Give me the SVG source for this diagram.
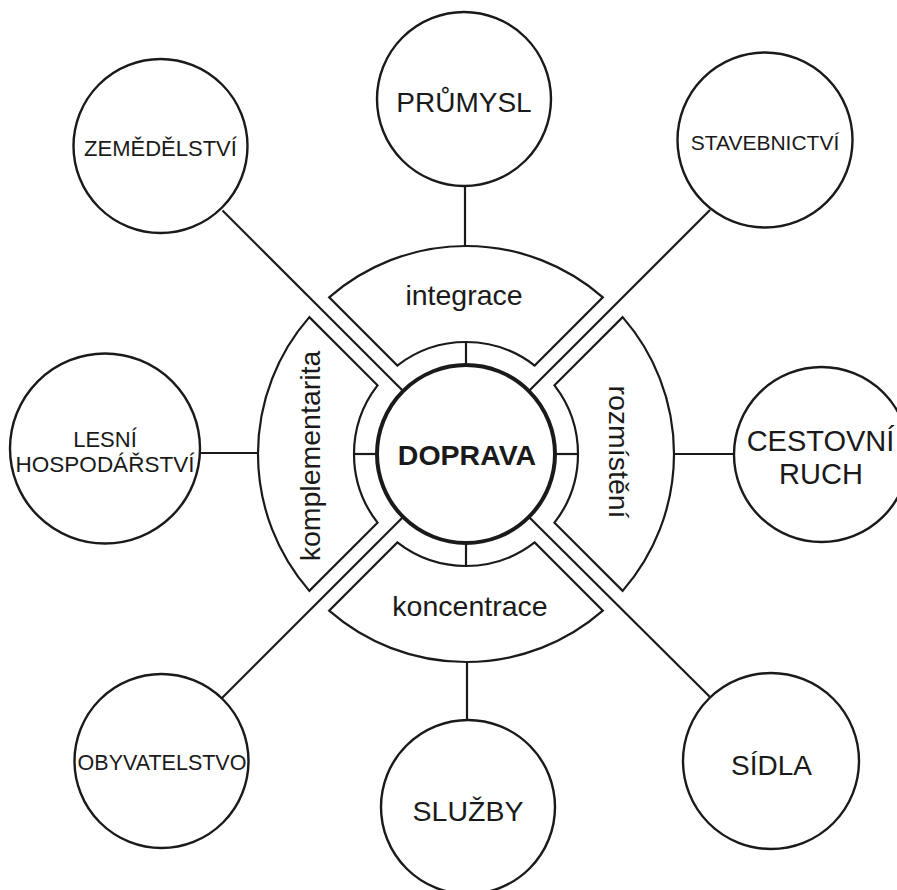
<svg xmlns="http://www.w3.org/2000/svg" width="897" height="890" viewBox="0 0 897 890">
<style>
  .ln{stroke:#1a1a1a;stroke-width:2.2;fill:none}
  .nd{stroke:#1a1a1a;stroke-width:2.4;fill:#fff}
  .sec{stroke:#1a1a1a;stroke-width:2.2;fill:#fff;stroke-linejoin:miter}
  .core{stroke:#1a1a1a;stroke-width:4;fill:#fff}
  text{font-family:"Liberation Sans",Arial,Helvetica,sans-serif;fill:#1a1a1a;text-anchor:middle}
  .b{font-weight:bold}
</style>
<defs>
  <path id="sector" d="M 329.15 297.35 A 208 208 0 0 1 602.85 297.35 L 534.67 365.53 A 112 112 0 0 0 397.33 365.53 Z"/>
</defs>
<rect width="897" height="890" fill="#fff"/>
<g id="connectors">
  <line class="ln" x1="403.07" y1="391.07" x2="222.5" y2="210.5"/>
  <line class="ln" x1="528.93" y1="391.07" x2="710" y2="210"/>
  <line class="ln" x1="403.07" y1="516.93" x2="222" y2="698"/>
  <line class="ln" x1="528.93" y1="516.93" x2="711" y2="698"/>
  <line class="ln" x1="465" y1="186" x2="465" y2="246"/>
  <line class="ln" x1="200" y1="453" x2="258" y2="453"/>
  <line class="ln" x1="674" y1="454" x2="734" y2="454"/>
  <line class="ln" x1="467" y1="662" x2="467" y2="720"/>
  <line class="ln" x1="466" y1="342" x2="466" y2="365"/>
  <line class="ln" x1="466" y1="543" x2="466" y2="566"/>
  <line class="ln" x1="354" y1="454" x2="377" y2="454"/>
  <line class="ln" x1="555" y1="454" x2="578" y2="454"/>
</g>
<g id="sector-integrace">
  <use href="#sector" class="sec"/>
  <text x="464" y="305" font-size="28.5">integrace</text>
</g>
<g id="sector-rozmisteni">
  <use href="#sector" class="sec" transform="rotate(90 466 454)"/>
  <text transform="translate(609 452) rotate(90)" font-size="28.5">rozmístění</text>
</g>
<g id="sector-koncentrace">
  <use href="#sector" class="sec" transform="rotate(180 466 454)"/>
  <text x="470" y="616" font-size="28.5">koncentrace</text>
</g>
<g id="sector-komplementarita">
  <use href="#sector" class="sec" transform="rotate(270 466 454)"/>
  <text transform="translate(320 456) rotate(-90)" font-size="28.5">komplementarita</text>
</g>
<g id="doprava">
  <circle class="core" cx="466" cy="454" r="89"/>
  <text class="b" x="467" y="465" font-size="28.5">DOPRAVA</text>
</g>
<g id="prumysl">
  <circle class="nd" cx="464" cy="99" r="87"/>
  <text x="464" y="112" font-size="28">PRŮMYSL</text>
</g>
<g id="zemedelstvi">
  <circle class="nd" cx="160.5" cy="146" r="87"/>
  <text x="160.5" y="156" font-size="22">ZEMĚDĚLSTVÍ</text>
</g>
<g id="stavebnictvi">
  <circle class="nd" cx="765" cy="140" r="87.5"/>
  <text x="765" y="150" font-size="21">STAVEBNICTVÍ</text>
</g>
<g id="lesni">
  <circle class="nd" cx="105" cy="448.5" r="95"/>
  <text x="105" y="447" font-size="22">LESNÍ</text>
  <text x="105" y="472" font-size="22.5">HOSPODÁŘSTVÍ</text>
</g>
<g id="cestovni">
  <circle class="nd" cx="821.5" cy="454.5" r="87.5"/>
  <text x="820.5" y="451" font-size="29">CESTOVNÍ</text>
  <text x="821" y="484" font-size="29">RUCH</text>
</g>
<g id="obyvatelstvo">
  <circle class="nd" cx="161.5" cy="761" r="87"/>
  <text x="162" y="770" font-size="21.5">OBYVATELSTVO</text>
</g>
<g id="sluzby">
  <circle class="nd" cx="468" cy="807" r="87"/>
  <text x="468" y="821" font-size="28.5">SLUŽBY</text>
</g>
<g id="sidla">
  <circle class="nd" cx="771" cy="761" r="88"/>
  <text x="771.5" y="775" font-size="28">SÍDLA</text>
</g>
</svg>
